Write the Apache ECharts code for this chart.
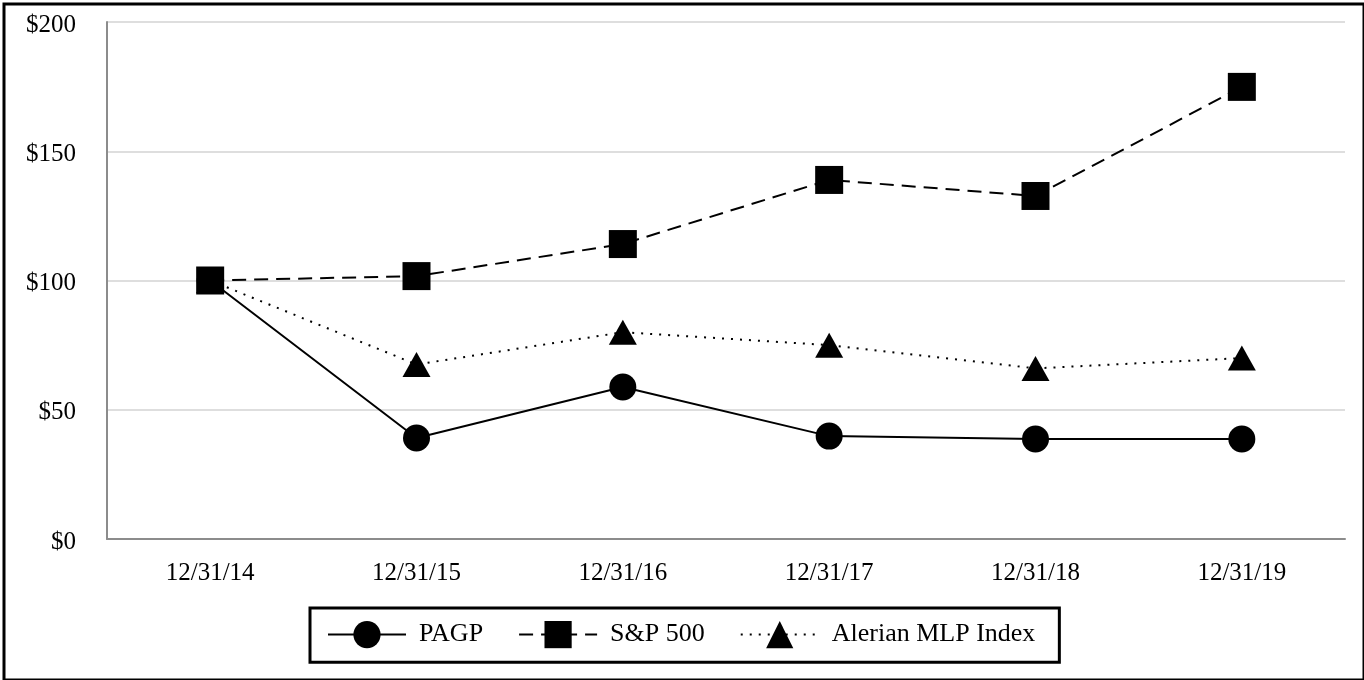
<!DOCTYPE html>
<html>
<head>
<meta charset="utf-8">
<script src="https://cdn.jsdelivr.net/npm/echarts@6/dist/echarts.min.js"></script>
<style>
html,body{margin:0;padding:0;background:#fff;}
#chart{width:1364px;height:680px;}
</style>
</head>
<body>
<div id="chart"></div>
<script>
const categories = ['12/31/14','12/31/15','12/31/16','12/31/17','12/31/18','12/31/19'];
const pagp = [100, 39.1, 58.8, 39.8, 38.7, 38.7];
const sp500 = [100, 101.7, 114.1, 138.9, 132.7, 174.9];
const alerian = [100, 67.5, 80, 75, 66, 70];
const seriesNames = ['PAGP', 'S&P 500', 'Alerian MLP Index'];

const FONT = '"Liberation Serif", "Times New Roman", serif';
const chart = echarts.init(document.getElementById('chart'), null, {renderer: 'canvas'});
chart.setOption({
  animation: false,
  backgroundColor: '#fff',
  textStyle: {fontFamily: FONT, color: '#000'},
  graphic: [{
    type: 'rect', left: 1.5, top: 1.5,
    shape: {x: 0, y: 0, width: 1360, height: 676},
    style: {fill: 'none', stroke: '#000', lineWidth: 3},
    silent: true
  }],
  grid: {left: 107, right: 19, top: 22, bottom: 141, containLabel: false},
  xAxis: {
    type: 'category', data: categories, boundaryGap: true,
    axisLine: {show: true, lineStyle: {color: '#8c8c8c', width: 2}},
    axisTick: {show: false},
    axisLabel: {fontFamily: FONT, fontSize: 25, color: '#000', margin: 22}
  },
  yAxis: {
    type: 'value', min: 0, max: 200, interval: 50,
    axisLine: {show: true, lineStyle: {color: '#8c8c8c', width: 2}},
    axisTick: {show: false},
    splitLine: {lineStyle: {color: '#dedede', width: 2}},
    axisLabel: {fontFamily: FONT, fontSize: 25, color: '#000', margin: 31,
                verticalAlign: 'top', lineHeight: 6, formatter: v => '$' + v}
  },
  legend: {
    data: seriesNames,
    left: 310, top: 608,
    borderColor: '#000', borderWidth: 3, padding: [13, 24, 14, 17],
    itemWidth: 78, itemHeight: 34, itemGap: 35,
    textStyle: {fontFamily: FONT, fontSize: 26, color: '#000', padding: [0, 0, 0, 8]}
  },
  series: [
    {name: seriesNames[0], type: 'line', data: pagp, symbol: 'circle', symbolSize: 27,
     lineStyle: {color: '#000', width: 2, type: 'solid'}, itemStyle: {color: '#000'}, z: 3},
    {name: seriesNames[1], type: 'line', data: sp500, symbol: 'rect', symbolSize: 28,
     lineStyle: {color: '#000', width: 2, type: [14, 8]}, itemStyle: {color: '#000'}, z: 2},
    {name: seriesNames[2], type: 'line', data: alerian, symbol: 'triangle', symbolSize: [28, 25],
     lineStyle: {color: '#000', width: 2, type: [2, 7]}, itemStyle: {color: '#000'}, z: 1}
  ]
});
</script>
</body>
</html>
